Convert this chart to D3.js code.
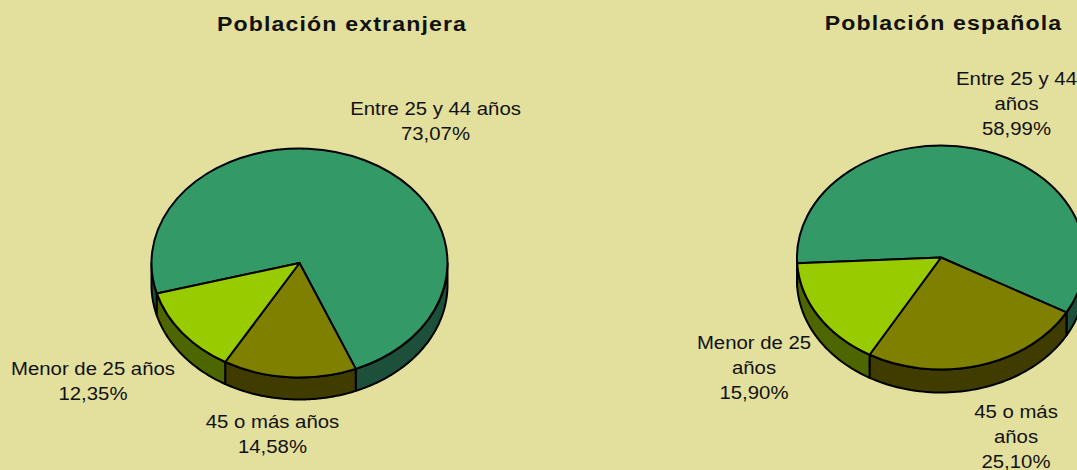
<!DOCTYPE html>
<html>
<head>
<meta charset="utf-8">
<script src="https://cdn.jsdelivr.net/npm/d3@7"></script>
<style>
  html, body { margin: 0; padding: 0; background: #e3e09e; overflow: hidden; }
  text { font-family: "Liberation Sans", Arial, sans-serif; fill: #111; }
</style>
</head>
<body>
<div id="chart"></div>
<script>
// data
const categories = ["Entre 25 y 44 años", "45 o más años", "Menor de 25 años"];
const extranjera = [73.07, 14.58, 12.35];
const espanola = [58.99, 25.10, 15.90];
const topColors = ["#339966", "#808000", "#99cc00"];
const sideColors = ["#1c503a", "#403c00", "#4d6600"];

const svg = d3.select("#chart").append("svg")
    .attr("width", 1077)
    .attr("height", 470);

const rad = d => d * Math.PI / 180;
const fmt = v => v.toFixed(2).replace(".", ",") + "%";

function drawPie(values, opt) {
    const pie = d3.pie().sort(null)
        .startAngle(rad(opt.start))
        .endAngle(rad(opt.start + 360));
    const arcs = pie(values);
    const ratio = opt.ry / opt.rx;

    // radial scale so the circle coordinates get squashed to the ellipse
    const sx = d3.scaleLinear().domain([-1, 1]).range([opt.cx - opt.rx, opt.cx + opt.rx]);
    const sy = d3.scaleLinear().domain([-1, 1]).range([opt.cy - opt.ry, opt.cy + opt.ry]);

    const line = d3.line().x(d => d[0]).y(d => d[1]);

    const g = svg.append("g");

    // side wall, only the front half is seen
    arcs.forEach((a, i) => {
        // the slice can wrap around, so test both turns
        [0, -2 * Math.PI].forEach(shift => {
            const from = Math.max(a.startAngle + shift, Math.PI / 2);
            const to = Math.min(a.endAngle + shift, Math.PI * 1.5);
            if (to <= from) return;
            const angles = d3.range(0, 61).map(k => from + (to - from) * k / 60);
            const upper = angles.map(t => [sx(Math.sin(t)), sy(-Math.cos(t))]);
            const lower = upper.map(p => [p[0], p[1] + opt.depth]).reverse();
            g.append("path")
                .attr("d", line(upper.concat(lower)) + "Z")
                .attr("fill", sideColors[i])
                .attr("stroke", "#000")
                .attr("stroke-width", 2)
                .attr("stroke-linejoin", "round");
        });
    });

    // top face
    const arc = d3.arc().innerRadius(0).outerRadius(opt.rx);
    g.append("g")
        .attr("transform", `translate(${opt.cx},${opt.cy}) scale(1,${ratio})`)
        .selectAll("path")
        .data(arcs)
        .join("path")
        .attr("d", arc)
        .attr("fill", (d, i) => topColors[i])
        .attr("stroke", "#000")
        .attr("stroke-width", 2)
        .attr("stroke-linejoin", "round")
        .attr("vector-effect", "non-scaling-stroke");

    // title, the original type is a bit stretched sideways
    svg.append("text")
        .attr("transform", `translate(${opt.titleX},${opt.titleY}) scale(1.1,1)`)
        .attr("text-anchor", "middle")
        .attr("font-size", 21)
        .attr("font-weight", "bold")
        .attr("letter-spacing", 1.05)
        .text(opt.title);

    // labels
    opt.labels.forEach((lab, i) => {
        const t = svg.append("text")
            .attr("transform", `translate(${lab.x},${lab.y}) scale(1.1,1)`)
            .attr("text-anchor", "middle")
            .attr("font-size", 18.5);
        lab.lines.concat([fmt(values[i])]).forEach((s, k) => {
            t.append("tspan")
                .attr("x", 0)
                .attr("y", k * 25)
                .text(s);
        });
    });
}

drawPie(extranjera, {
    title: "Población extranjera", titleX: 342, titleY: 31,
    cx: 299.5, cy: 263, rx: 148, ry: 114.5, depth: 22, start: 254.6,
    labels: [
        { lines: [categories[0]], x: 435.5, y: 115 },
        { lines: [categories[1]], x: 272.5, y: 428 },
        { lines: [categories[2]], x: 93, y: 375 }
    ]
});

drawPie(espanola, {
    title: "Población española", titleX: 943.5, titleY: 30,
    cx: 941, cy: 257.5, rx: 144, ry: 112, depth: 23, start: 267,
    labels: [
        { lines: ["Entre 25 y 44", "años"], x: 1016.5, y: 85 },
        { lines: ["45 o más", "años"], x: 1016, y: 418 },
        { lines: ["Menor de 25", "años"], x: 754, y: 349 }
    ]
});
</script>
</body>
</html>
